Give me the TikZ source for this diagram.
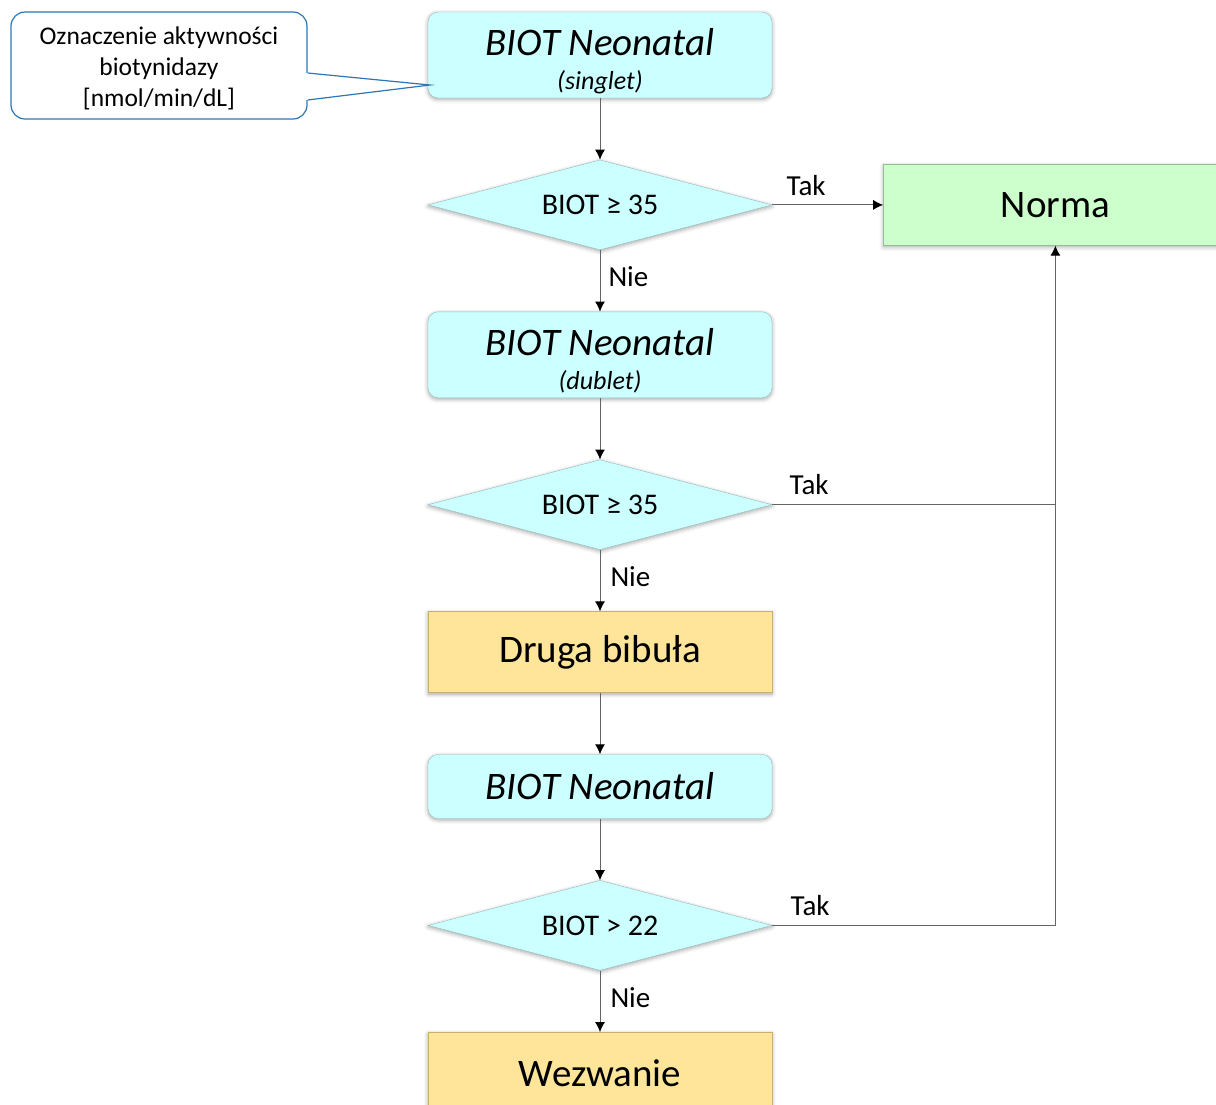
\documentclass[tikz,border=0pt]{standalone}
\usepackage{fontspec}
\setmainfont{Carlito}
\usetikzlibrary{positioning,shapes.geometric,arrows.meta,shadows.blur}
\definecolor{testcyan}{RGB}{204,255,255}
\definecolor{testedge}{RGB}{150,185,185}
\definecolor{normgreen}{RGB}{204,255,204}
\definecolor{normedge}{RGB}{150,190,150}
\definecolor{paperyellow}{RGB}{255,229,153}
\definecolor{paperedge}{RGB}{200,175,110}
\definecolor{noteblue}{RGB}{46,117,182}
\definecolor{linegray}{RGB}{100,100,100}
\begin{document}
\begin{tikzpicture}[x=1pt,y=-1pt,node distance=61.5pt,
	soft/.style={blur shadow={shadow xshift=0pt,shadow yshift=-1.5pt,shadow blur radius=4pt,shadow opacity=35}},
	test/.style={draw=testedge,fill=testcyan,rounded corners=10pt,minimum width=344pt,align=center,soft},
	decision/.style={shape=diamond,draw=testedge,fill=testcyan,aspect=3.8,minimum width=344pt,minimum height=90pt,inner sep=0pt,font=\fontsize{30}{33}\selectfont,soft},
	result/.style={draw=paperedge,fill=paperyellow,minimum width=344pt,minimum height=81pt,font=\fontsize{39}{42}\selectfont,soft},
	flow/.style={draw=linegray,line width=1pt,-{Latex[length=10pt,width=10pt,black]}},
	answer/.style={font=\fontsize{29}{32}\selectfont}]
	\useasboundingbox (0,0) rectangle (1216,1104);

	\node[test,minimum height=86pt] (biot1) at (600,55) {\rule{0pt}{39pt}{\fontsize{39}{42}\selectfont\itshape BIOT Neonatal}\\[14pt]{\fontsize{26}{28}\selectfont\itshape (singlet)}};
	\node[decision] (dec1) [below=of biot1] {BIOT ≥ 35};
	\node[test,minimum height=86pt] (biot2) [below=of dec1] {\rule{0pt}{39pt}{\fontsize{39}{42}\selectfont\itshape BIOT Neonatal}\\[14pt]{\fontsize{26}{28}\selectfont\itshape (dublet)}};
	\node[decision] (dec2) [below=of biot2] {BIOT ≥ 35};
	\node[result] (paper2) [below=of dec2] {Druga bibuła};
	\node[test,minimum height=64pt,font=\fontsize{39}{42}\selectfont\itshape] (biot3) [below=of paper2] {BIOT Neonatal};
	\node[decision] (dec3) [below=of biot3] {BIOT > 22};
	\node[result] (recall) [below=of dec3] {Wezwanie};
	\node[result,draw=normedge,fill=normgreen] (norm) [right=111pt of dec1] {Norma};

	% callout
	\node[draw=noteblue,line width=1.2pt,fill=white,rounded corners=14pt,minimum width=296pt,minimum height=107pt,align=center,font=\fontsize{25.5}{31}\selectfont] (note) at (159,65.5) {\rule{0pt}{24pt}Oznaczenie aktywności\\biotynidazy\\{}[nmol/min/dL]};
	\coordinate (tip) at (430,85);
	\fill[white] ([xshift=-2pt,yshift=-7.5pt]note.east) -- (tip) -- ([xshift=-2pt,yshift=-34.5pt]note.east) -- cycle;
	\draw[noteblue,line width=1.2pt] ([yshift=-7.5pt]note.east) -- (tip) -- ([yshift=-34.5pt]note.east);

	\draw[flow] (biot1) -- (dec1);
	\draw[flow] (dec1) -- node[answer,right,inner sep=8pt,yshift=4pt] {Nie} (biot2);
	\draw[flow] (biot2) -- (dec2);
	\draw[flow] (dec2) -- node[answer,right,inner sep=10pt,yshift=4pt] {Nie} (paper2);
	\draw[flow] (paper2) -- (biot3);
	\draw[flow] (biot3) -- (dec3);
	\draw[flow] (dec3) -- node[answer,right,inner sep=10pt,yshift=4pt] {Nie} (recall);
	\draw[flow] (dec1) -- node[answer,pos=0,anchor=south west,inner sep=9pt,xshift=5pt] {Tak} (norm);
	\draw[draw=linegray,line width=1pt] (dec2.east) -- node[answer,pos=0,anchor=south west,inner sep=9pt,xshift=8pt] {Tak} (dec2.east -| norm.south);
	\draw[flow] (dec3.east) -- node[answer,pos=0,anchor=south west,inner sep=9pt,xshift=9pt] {Tak} (dec3.east -| norm.south) -- (norm.south);
\end{tikzpicture}
\end{document}
